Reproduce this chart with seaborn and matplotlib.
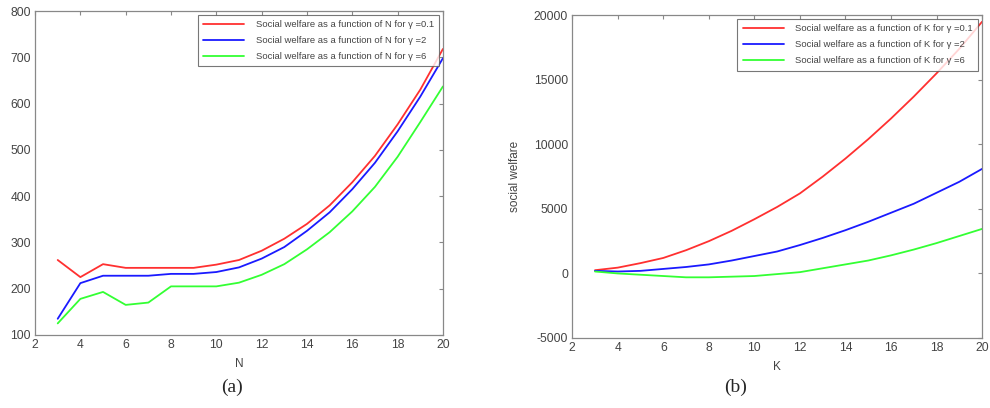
import pandas as pd
import seaborn as sns
import matplotlib.pyplot as plt
import numpy as np

# values
N = list(range(3, 21))
sw_N_g01 = [262, 225, 253, 245, 245, 245, 245, 252, 262, 282, 308, 340, 380, 430, 487, 555, 630, 718]
sw_N_g2 = [135, 212, 228, 228, 228, 232, 232, 236, 246, 265, 290, 325, 365, 415, 472, 540, 615, 698]
sw_N_g6 = [125, 178, 193, 165, 170, 205, 205, 205, 213, 230, 253, 285, 322, 367, 420, 485, 560, 637]

K = list(range(3, 21))
sw_K_g01 = [250, 450, 800, 1200, 1800, 2500, 3300, 4200, 5150, 6200, 7500, 8900, 10400, 12000, 13700, 15500, 17400, 19500]
sw_K_g2 = [200, 150, 200, 350, 500, 700, 1000, 1350, 1700, 2200, 2750, 3350, 4000, 4700, 5400, 6250, 7100, 8100]
sw_K_g6 = [150, 0, -100, -200, -300, -300, -250, -200, -50, 100, 400, 700, 1000, 1400, 1850, 2350, 2900, 3450]

gammas = ["0.1", "2", "6"]
colors = ["#ff3030", "#1a1aff", "#33ff33"]

sns.set_style("white")
plt.rcParams['font.family'] = ['Liberation Sans', 'DejaVu Sans']
plt.rcParams['axes.unicode_minus'] = False

def long_form(x, series, var):
    rows = []
    for g, ys in zip(gammas, series):
        for xi, yi in zip(x, ys):
            rows.append({var: xi, "sw": yi,
                         "label": "Social welfare as a function of %s for \u03b3 =%s" % (var, g)})
    return pd.DataFrame(rows)

df_N = long_form(N, [sw_N_g01, sw_N_g2, sw_N_g6], "N")
df_K = long_form(K, [sw_K_g01, sw_K_g2, sw_K_g6], "K")

fig = plt.figure(figsize=(9.9, 4.08), dpi=100)
ax1 = fig.add_axes([0.0354, 0.179, 0.412, 0.794])
ax2 = fig.add_axes([0.578, 0.1716, 0.414, 0.791])

sns.lineplot(data=df_N, x="N", y="sw", hue="label", palette=colors, ax=ax1, linewidth=1.3)
sns.lineplot(data=df_K, x="K", y="sw", hue="label", palette=colors, ax=ax2, linewidth=1.3)

txt = "#444444"
for ax, ticks, lim in [(ax1, np.arange(100, 801, 100), (100, 800)),
                       (ax2, np.arange(-5000, 20001, 5000), (-5000, 20000))]:
    ax.set_xlim(2, 20)
    ax.set_xticks(np.arange(2, 21, 2))
    ax.set_ylim(*lim)
    ax.set_yticks(ticks)
    ax.tick_params(direction="in", top=True, right=True, length=3, width=0.8,
                   color="#888888", labelsize=8.7, labelcolor=txt, pad=3)
    for s in ax.spines.values():
        s.set_color("#888888")
        s.set_linewidth(0.9)
    leg = ax.legend(loc="upper right", fontsize=6.8, handlelength=4.4, frameon=True,
                    fancybox=False, borderpad=0.55, labelspacing=0.75, handletextpad=1.2,
                    borderaxespad=0.4)
    leg.get_frame().set_edgecolor("#555555")
    leg.get_frame().set_linewidth(0.8)
    for t in leg.get_texts():
        t.set_color(txt)

ax1.set_xlabel("N", fontsize=8.5, color=txt, labelpad=5)
ax2.set_xlabel("K", fontsize=8.5, color=txt, labelpad=5)
ax1.set_ylabel("social welfare", fontsize=8.5, color=txt)
ax2.set_ylabel("social welfare", fontsize=8.5, color=txt)
ax1.yaxis.set_label_coords(-0.09, 0.5)
ax2.yaxis.set_label_coords(-0.125, 0.5)

fig.text(0.234, 0.04, "(a)", fontsize=14, family="Liberation Serif", ha="center")
fig.text(0.743, 0.04, "(b)", fontsize=14, family="Liberation Serif", ha="center")

fig.savefig("out.png", dpi=100)
